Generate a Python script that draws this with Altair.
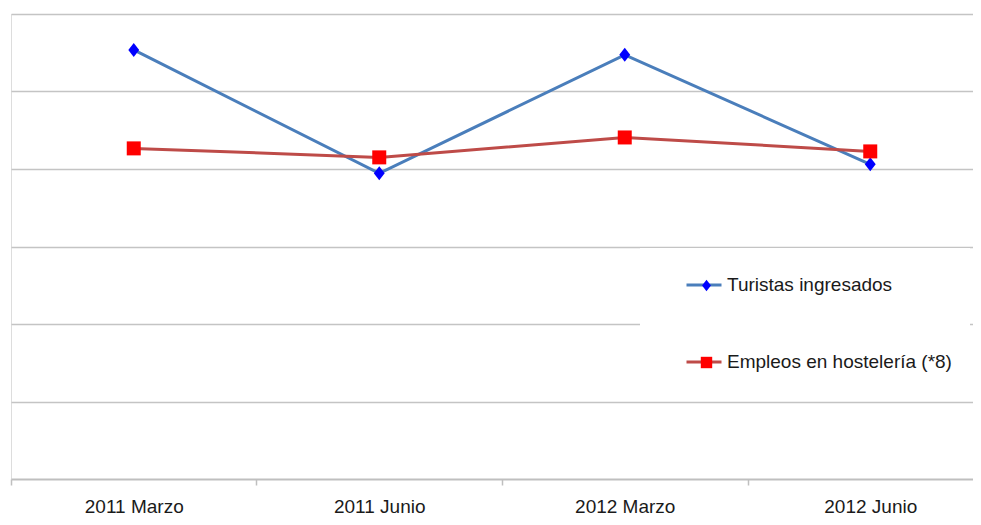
import json
import altair as alt
import pandas as pd

categorias = ["2011 Marzo", "2011 Junio", "2012 Marzo", "2012 Junio"]
turistas = [553.7, 394.4, 547.3, 406.0]
empleos = [426.6, 415.0, 440.7, 422.7]
series = ["Turistas ingresados", "Empleos en hostelería (*8)"]
colores_linea = ["#4A7EBB", "#BE4B48"]
colores_marca = ["#0000FF", "#FF0000"]
formas = ["M0,-1L0.78,0L0,1L-0.78,0Z", "square"]
titulo = "y los empleos en hostelería"
rejilla = [100, 200, 300, 400, 500, 600]

rows = []
for s, vals in zip(series, [turistas, empleos]):
    for i, (c, v) in enumerate(zip(categorias, vals)):
        rows.append({"idx": i, "periodo": c, "valor": v, "serie": s, "marca": s})
df = pd.DataFrame(rows)

FONT = "Liberation Sans, Arial, sans-serif"
W = 962
H = 465
STEP = 245.5
n = len(categorias)
limites = [i - 0.5 for i in range(n)]

xenc = alt.X(
    "idx:Q",
    scale=alt.Scale(domain=[-0.5, -0.5 + W / STEP], nice=False, zero=False),
    axis=alt.Axis(
        title=None, labelAngle=0, grid=False, values=limites,
        labelExpr=f"{json.dumps(categorias)}[round(datum.value + 0.5)]",
        labelOffset=STEP / 2, labelFlush=False, labelOverlap=False, labelBound=False,
        domainColor="#BFBFBF", domainWidth=2, tickColor="#BFBFBF", tickWidth=1.5, tickSize=6,
        labelFont=FONT, labelFontSize=19, labelColor="#1a1a1a", labelPadding=12,
    ),
)
yenc = alt.Y(
    "valor:Q",
    scale=alt.Scale(domain=[0, 600], nice=False, zero=True),
    axis=alt.Axis(
        title=None, values=rejilla, labels=False, ticks=False, domain=False,
        grid=True, gridColor="#C4C4C4", gridWidth=1.6,
    ),
)

leg_a = alt.Legend(
    title=None, orient="none", legendX=629, legendY=234, fillColor="white", padding=18,
    symbolType="stroke", symbolSize=1225, symbolStrokeWidth=3, symbolOffset=27,
    labelOffset=4, rowPadding=48, labelFont=FONT, labelFontSize=19, labelColor="#1a1a1a",
    labelLimit=400, zindex=1,
)
leg_b = alt.Legend(
    title=None, orient="none", legendX=629, legendY=234, padding=28,
    symbolSize=130, symbolStrokeWidth=0, symbolOffset=29, rowPadding=57,
    labelFont=FONT, labelFontSize=19, labelOpacity=0, labelLimit=400, zindex=2,
)

lineas = alt.Chart(df).mark_line(strokeWidth=3).encode(
    x=xenc, y=yenc,
    color=alt.Color("serie:N", sort=series, scale=alt.Scale(range=colores_linea), legend=leg_a),
)
puntos = alt.Chart(df).mark_point(filled=True, size=196, opacity=1).encode(
    x=xenc, y=yenc,
    fill=alt.Fill("marca:N", scale=alt.Scale(domain=series, range=colores_marca), legend=leg_b),
    shape=alt.Shape("marca:N", scale=alt.Scale(domain=series, range=formas), legend=leg_b),
)

chart = alt.layer(lineas, puntos).properties(
    width=W, height=H,
    padding={"left": 3, "top": 6, "right": 0, "bottom": 37},
    autosize=alt.AutoSizeParams(type="none"),
    title=alt.TitleParams(
        text=titulo, font="Liberation Serif", fontSize=26, fontWeight="normal", color="#000000",
        anchor="middle", baseline="alphabetic", offset=6, orient="top",
    ),
).configure_view(stroke=None).configure(background="white")

chart.save("out.html", embed_options={"renderer": "svg", "actions": False})
